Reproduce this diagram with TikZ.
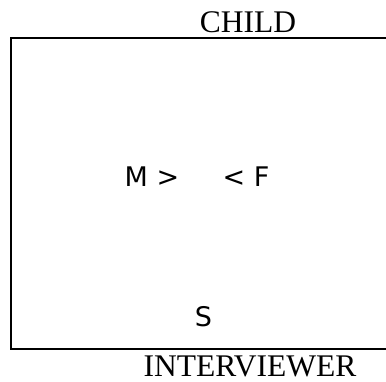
\documentclass[tikz,border=0pt]{standalone}
\usepackage{fontspec}
\setmainfont{Liberation Serif}
\newfontfamily\lblfont{DejaVu Sans}
\tikzset{
  serifl/.style={inner sep=0pt, anchor=base, font=\fontsize{31.5}{36}\selectfont},
  sansl/.style={inner sep=0pt, font=\lblfont\fontsize{27}{32}\selectfont},
  frame/.style={line width=2.2pt, line cap=rect}
}
\begin{document}
\begin{tikzpicture}[x=1pt,y=1pt]
\useasboundingbox (0,0) rectangle (386,382);
\clip (0,0) rectangle (386,382);
\draw[frame] (400,344.3) -- (11,344.3) -- (11,33) -- (400,33);
\node[serifl] (child) at (248,349) {CHILD};
\node[serifl] (interviewer) at (250,5.5) {INTERVIEWER};
\node[sansl, anchor=base west] (m) at (124.5,195) {M >};
\node[sansl, anchor=base east] (f) at (269.5,195) {< F};
\node[sansl, anchor=base] (s) at (203.5,55) {S};
\end{tikzpicture}
\end{document}
